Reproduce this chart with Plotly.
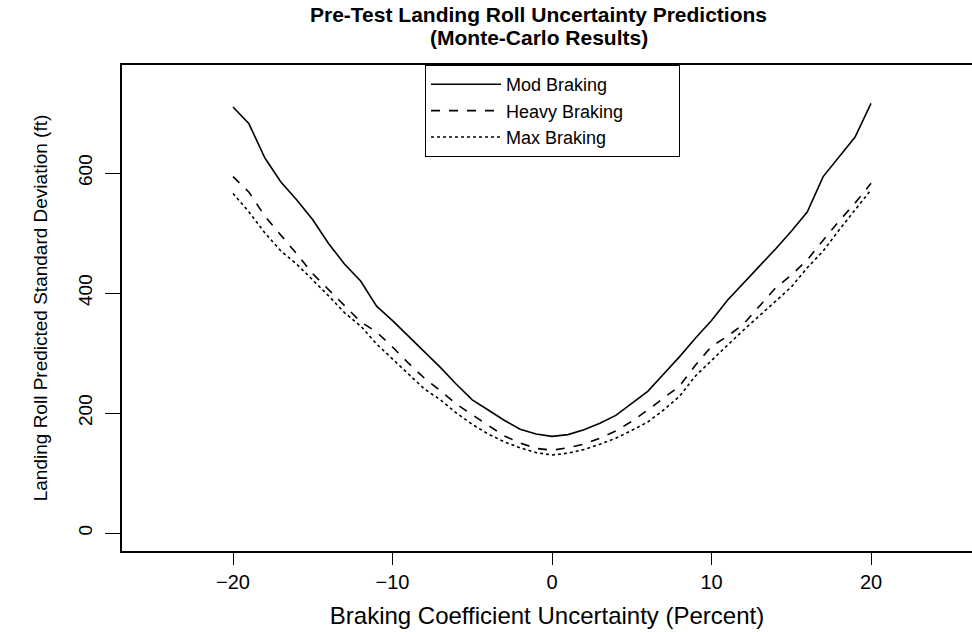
import plotly.graph_objects as go

x_vals = list(range(-20, 21))

mod_braking = [710, 682, 625, 585, 555, 522, 482, 448, 420, 378, 354, 328, 302, 276, 248, 222,
               205, 188, 173, 165, 161, 164, 172, 183, 196, 216, 236, 265, 294, 325, 354,
               388, 416, 444, 473, 503, 535, 594, 627, 660, 716]
heavy_braking = [594, 568, 528, 497, 465, 432, 405, 378, 352, 335, 310, 283, 258, 237, 215, 197,
                 180, 162, 150, 141, 138, 142, 148, 158, 170, 186, 205, 225, 245, 280, 311,
                 328, 348, 378, 408, 430, 455, 488, 520, 550, 583]
max_braking = [566, 535, 500, 470, 448, 422, 395, 367, 345, 315, 290, 265, 240, 222, 200, 181,
               165, 152, 142, 134, 130, 133, 139, 148, 158, 171, 185, 205, 228, 262, 288,
               313, 338, 362, 386, 410, 442, 470, 505, 538, 572]

series_names = ["Mod Braking", "Heavy Braking", "Max Braking"]
x_ticks = [-20, -10, 0, 10, 20]
y_ticks = [0, 200, 400, 600]
title_lines = ["Pre-Test Landing Roll Uncertainty Predictions", "(Monte-Carlo Results)"]

FONT = "Liberation Sans, Arial, sans-serif"
PAD = "\u00a0" * 10

fig = go.Figure()
for name, vals, dash in zip(series_names, [mod_braking, heavy_braking, max_braking],
                            ["solid", "dash", "dot"]):
    fig.add_trace(go.Scatter(x=x_vals, y=vals, mode="lines", name=name + PAD,
                             line=dict(color="black", width=1.6, dash=dash)))

for txt, yy in zip(title_lines, [1.1029, 1.0576]):
    fig.add_annotation(text="<b>" + txt + "</b>", xref="paper", yref="paper", x=0.49, y=yy,
                       xanchor="center", yanchor="middle", showarrow=False,
                       font=dict(size=21, family=FONT, color="black"))

fig.update_layout(
    width=972, height=632,
    margin=dict(l=122, r=0, t=65, b=81),
    paper_bgcolor="white", plot_bgcolor="white",
    font=dict(family=FONT, color="black"),
    showlegend=True,
    legend=dict(x=0.3565, y=1, xanchor="left", yanchor="top",
                bordercolor="black", borderwidth=1, bgcolor="white",
                font=dict(size=18, family=FONT), tracegroupgap=0, itemwidth=70),
    xaxis=dict(range=[-26.96, 26.33], tickvals=x_ticks, ticks="outside", ticklen=12,
               tickcolor="black", tickwidth=1, showline=True, linecolor="black", linewidth=1.5,
               mirror=True, showgrid=False, zeroline=False,
               tickfont=dict(size=20, family=FONT), ticklabelstandoff=0,
               title=dict(text="Braking Coefficient Uncertainty (Percent)",
                          font=dict(size=24, family=FONT), standoff=15)),
    yaxis=dict(range=[-30, 780], tickvals=y_ticks, ticks="outside", ticklen=15,
               tickcolor="black", tickwidth=1, showline=True, linecolor="black", linewidth=1.5,
               mirror=False, showgrid=False, zeroline=False, tickangle=-90,
               tickfont=dict(size=19, family=FONT), ticklabelstandoff=6,
               title=dict(text="Landing Roll Predicted Standard Deviation (ft)",
                          font=dict(size=19, family=FONT), standoff=22)),
)

fig.write_html("out.html")
